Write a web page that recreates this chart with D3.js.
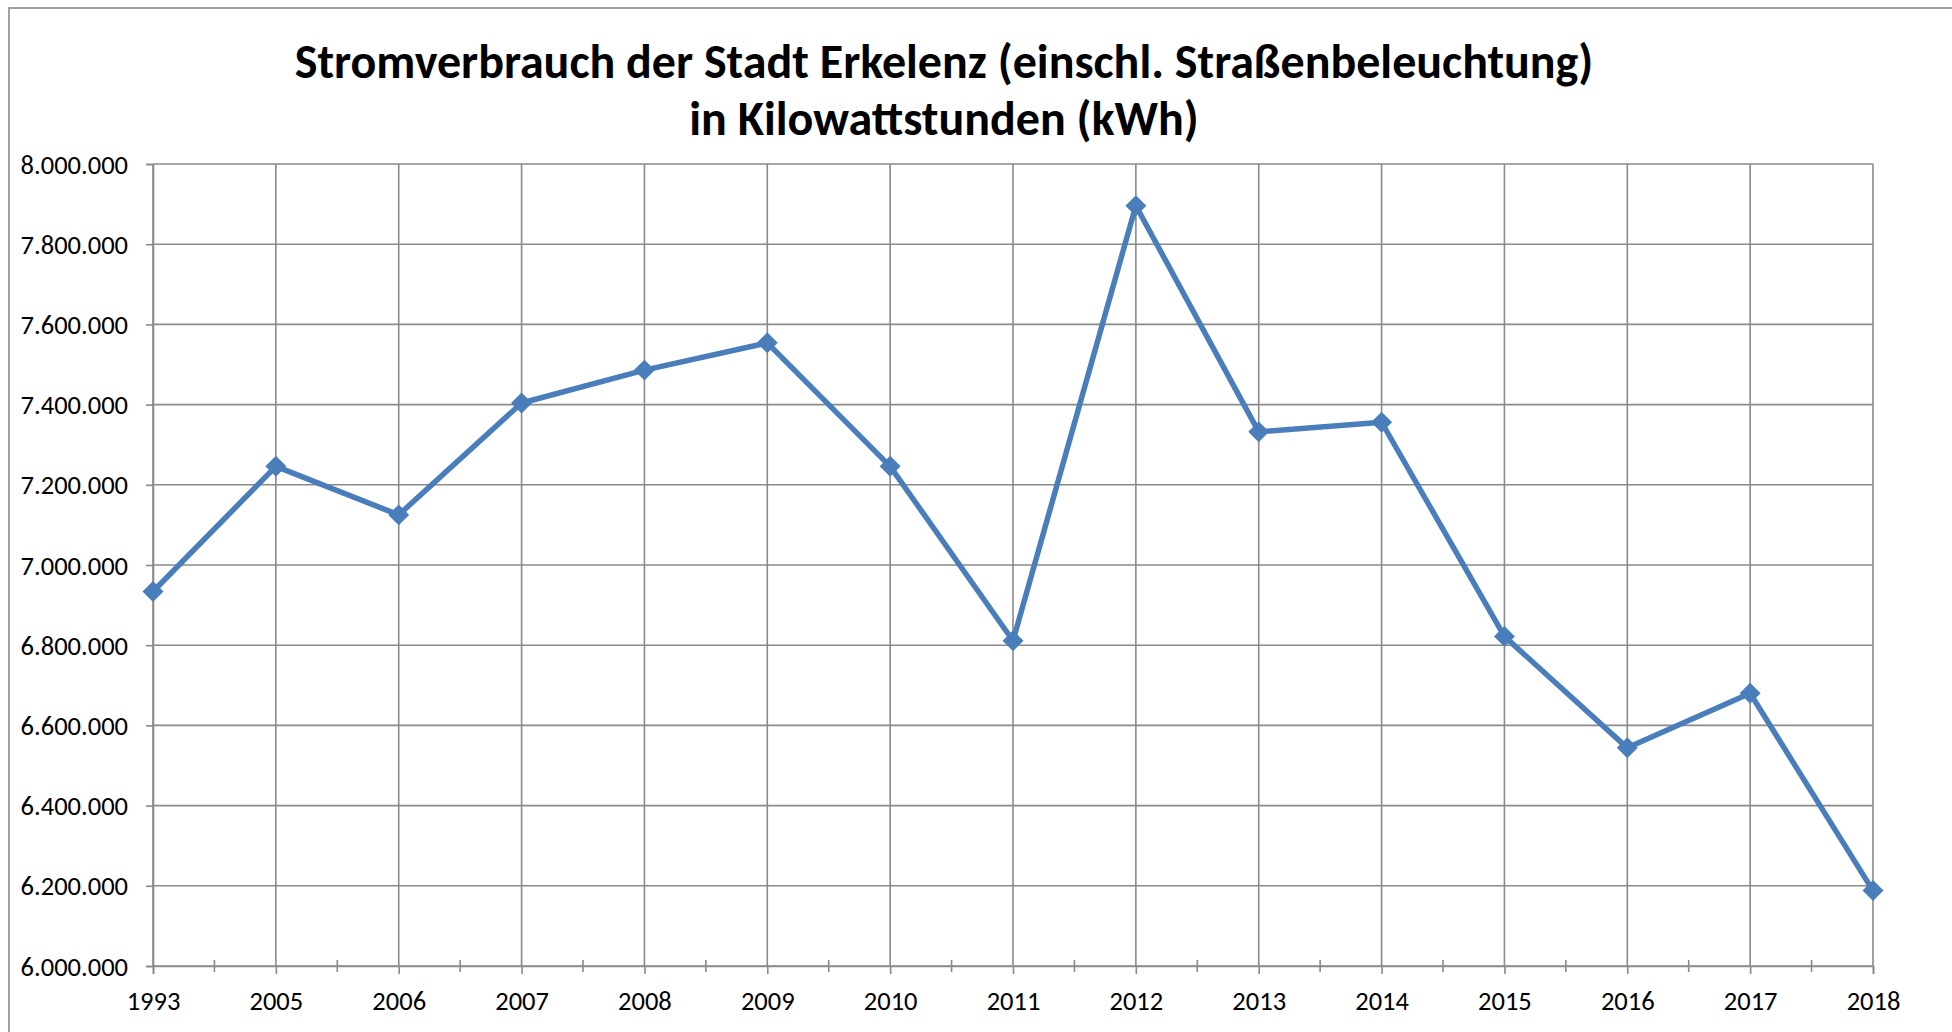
<!DOCTYPE html>
<html>
<head>
<meta charset="utf-8">
<script src="https://cdn.jsdelivr.net/npm/d3@7"></script>
<style>
    body { margin: 0; background: #fff; }
    svg { display: block; }
    text { font-family: Carlito, Calibri, Lato, "Open Sans", sans-serif; fill: #000; }
</style>
</head>
<body>
<div id="chart"></div>
<script>
// data
const years = ["1993", "2005", "2006", "2007", "2008", "2009", "2010", "2011",
    "2012", "2013", "2014", "2015", "2016", "2017", "2018"];
const kwh = [6934000, 7246000, 7125000, 7404000, 7486000, 7554000, 7246000, 6811000,
    7896000, 7332000, 7356000, 6822000, 6544000, 6680000, 6188000];
const yTicks = [6000000, 6200000, 6400000, 6600000, 6800000, 7000000, 7200000,
    7400000, 7600000, 7800000, 8000000];
const titleLines = ["Stromverbrauch der Stadt Erkelenz (einschl. Straßenbeleuchtung)",
    "in Kilowattstunden (kWh)"];

const W = 1952, H = 1032;
const margin = { top: 164, right: 79, bottom: 66, left: 153 },
    width = W - margin.left - margin.right,
    height = H - margin.top - margin.bottom;

const grid = "#8a8a8a";
const blue = "#4a7ebb";

const de = d3.formatLocale({ decimal: ",", thousands: ".", grouping: [3], currency: ["", " €"] });
const fmt = de.format(",d");

const root = d3.select("#chart")
    .append("svg")
    .attr("width", W)
    .attr("height", H);

// chart area border (runs off the right and bottom of the picture)
root.append("rect")
    .attr("x", 9).attr("y", 8)
    .attr("width", W + 20).attr("height", H + 20)
    .attr("fill", "#fff")
    .attr("stroke", grid)
    .attr("stroke-width", 1.6);

// title, kept to the width of the original
const titleWidths = [1299, 508];
const titleBase = [78, 135];
titleLines.forEach((t, i) => {
    const el = root.append("text")
        .attr("x", 944)
        .attr("y", titleBase[i])
        .attr("text-anchor", "middle")
        .style("font-size", "48px")
        .style("font-weight", "bold")
        .text(t);
    const w = el.node().getComputedTextLength();
    if (w > titleWidths[i] * 1.02) {
        el.attr("textLength", titleWidths[i]).attr("lengthAdjust", "spacingAndGlyphs");
    }
});

const svg = root.append("g")
    .attr("transform", `translate(${margin.left}, ${margin.top})`);

const x = d3.scalePoint()
    .domain(years)
    .range([0, width]);

const y = d3.scaleLinear()
    .domain([6000000, 8000000])
    .range([height, 0]);

// horizontal gridlines
svg.append("g")
    .selectAll("line")
    .data(yTicks)
    .join("line")
    .attr("x1", 0).attr("x2", width)
    .attr("y1", d => y(d)).attr("y2", d => y(d))
    .attr("stroke", grid)
    .attr("stroke-width", 1.6);

// vertical gridlines
svg.append("g")
    .selectAll("line")
    .data(years)
    .join("line")
    .attr("x1", d => x(d)).attr("x2", d => x(d))
    .attr("y1", 0).attr("y2", height)
    .attr("stroke", grid)
    .attr("stroke-width", 1.6);

// Y axis
const yAxis = svg.append("g")
    .call(d3.axisLeft(y).tickValues(yTicks).tickFormat(fmt).tickSize(7).tickPadding(18));
yAxis.select(".domain").attr("stroke", grid).attr("stroke-width", 1.6);
yAxis.selectAll(".tick line").attr("stroke", grid).attr("stroke-width", 1.6);
yAxis.selectAll("text")
    .style("font-size", "26.5px")
    .attr("fill", "#000")
    .attr("dy", "0.34em");

// X axis
const xAxis = svg.append("g")
    .attr("transform", `translate(0, ${height})`)
    .call(d3.axisBottom(x).tickSize(8).tickPadding(17));
xAxis.select(".domain").attr("stroke", grid).attr("stroke-width", 1.6);
xAxis.selectAll(".tick line").attr("stroke", grid).attr("stroke-width", 1.6);
xAxis.selectAll("text")
    .style("font-size", "26.5px")
    .attr("fill", "#000");

// small ticks between the categories
const step = x.step();
xAxis.append("g")
    .selectAll("line")
    .data(years.slice(1))
    .join("line")
    .attr("x1", d => x(d) - step / 2).attr("x2", d => x(d) - step / 2)
    .attr("y1", -6).attr("y2", 6)
    .attr("stroke", grid)
    .attr("stroke-width", 1.6);

// the line
const pts = years.map((d, i) => ({ year: d, value: kwh[i] }));

svg.append("path")
    .datum(pts)
    .attr("fill", "none")
    .attr("stroke", blue)
    .attr("stroke-width", 5.5)
    .attr("stroke-linejoin", "round")
    .attr("d", d3.line().x(d => x(d.year)).y(d => y(d.value)));

// diamond markers
svg.append("g")
    .selectAll("path")
    .data(pts)
    .join("path")
    .attr("d", d3.symbol().type(d3.symbolSquare).size(220))
    .attr("transform", d => `translate(${x(d.year)}, ${y(d.value)}) rotate(45)`)
    .attr("fill", blue);
</script>
</body>
</html>
